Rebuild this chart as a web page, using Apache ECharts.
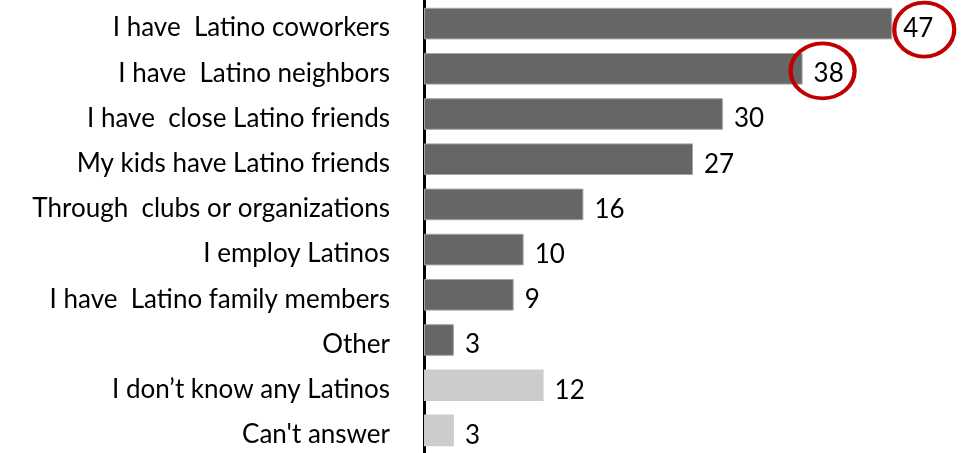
<!DOCTYPE html>
<html>
<head>
<meta charset="utf-8">
<script src="https://cdn.jsdelivr.net/npm/echarts@6/dist/echarts.min.js"></script>
<style>
  html, body { margin: 0; padding: 0; background: #fff; }
  #chart { width: 962px; height: 453px; }
</style>
</head>
<body>
<div id="chart"></div>
<script>
// Ways respondents know Latinos (%), top to bottom
const categories = [
  'I have  Latino coworkers',
  'I have  Latino neighbors',
  'I have  close Latino friends',
  'My kids have Latino friends',
  'Through  clubs or organizations',
  'I employ Latinos',
  'I have  Latino family members',
  'Other',
  'I don\u2019t know any Latinos',
  'Can\'t answer'
];
const values = [47, 38, 30, 27, 16, 10, 9, 3, 12, 3];
// Non-contact answers are drawn in light grey
const isNonContact = [false, false, false, false, false, false, false, false, true, true];
// Values circled in red
const highlighted = [0, 1];

const DARK = '#666666';
const LIGHT = '#cccccc';

const chart = echarts.init(document.getElementById('chart'));

const barData = values.map((v, i) => ({
  value: v,
  itemStyle: {
    color: isNonContact[i] ? LIGHT : DARK,
    borderColor: isNonContact[i] ? LIGHT : '#a6a6a6',
    borderWidth: isNonContact[i] ? 0 : 1
  }
}));

// Red rings sit around the value labels of the highlighted bars
const ringShape = [
  { size: [60, 54], offset: [32, 6] },
  { size: [64, 55], offset: [20, 2] }
];
const rings = highlighted.map((i, k) => ({
  coord: [values[i], categories[i]],
  symbol: 'circle',
  symbolSize: ringShape[k].size,
  symbolOffset: ringShape[k].offset,
  itemStyle: { color: 'rgba(0,0,0,0)', borderColor: '#c00000', borderWidth: 4 },
  label: { show: false }
}));

chart.setOption({
  animation: false,
  grid: { left: 424, right: 0, top: 1, height: 457, containLabel: false },
  xAxis: {
    type: 'value',
    min: 0,
    max: 54,
    show: false
  },
  yAxis: {
    type: 'category',
    inverse: true,
    data: categories,
    axisLine: { show: true, lineStyle: { color: '#000', width: 3 } },
    axisTick: { show: false },
    axisLabel: {
      margin: 34,
      color: '#000',
      fontFamily: 'Lato',
      fontSize: 26,
      verticalAlign: 'top',
      lineHeight: 9
    }
  },
  series: [{
    type: 'bar',
    data: barData,
    barCategoryGap: '30%',
    label: {
      show: true,
      position: 'right',
      distance: 11,
      color: '#000',
      fontFamily: 'Lato',
      fontSize: 26,
      offset: [0, 5]
    },
    markPoint: {
      silent: true,
      data: rings
    }
  }]
});
</script>
</body>
</html>
